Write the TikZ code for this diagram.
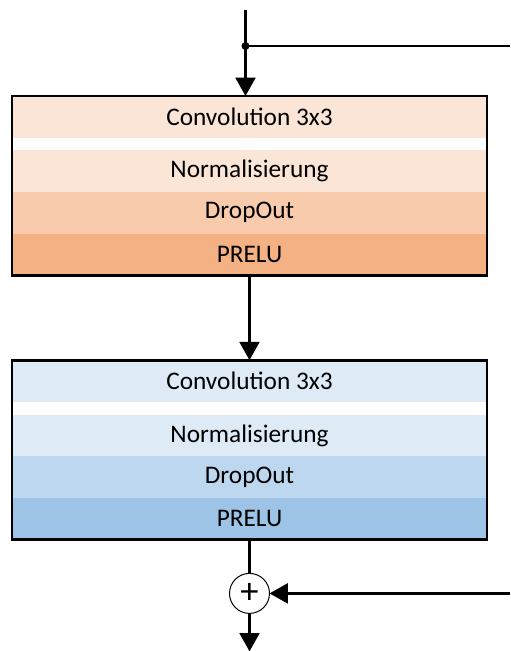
\documentclass[tikz,border=0pt]{standalone}
\usepackage{fontspec}
\setmainfont{Carlito}
\usetikzlibrary{positioning}
\usetikzlibrary{arrows.meta}

\definecolor{orL}{HTML}{FBE5D6}
\definecolor{orM}{HTML}{F8CBAD}
\definecolor{orD}{HTML}{F4B183}
\definecolor{blL}{HTML}{DEEBF7}
\definecolor{blM}{HTML}{BDD7EE}
\definecolor{blD}{HTML}{9DC3E6}

\begin{document}
\begin{tikzpicture}[every node/.style={outer sep=0pt},
 layer/.style={minimum width=11.875cm,minimum height=1.04cm,inner sep=0pt,
 font=\fontsize{18}{20}\selectfont},
 frame/.style={draw,line width=2pt},
 wire/.style={line width=2pt},
 flow/.style={line width=2pt,-{Triangle[length=13pt,width=14pt]}},
 sum/.style={circle,draw,line width=0.7pt,minimum size=1cm,inner sep=0pt,
 fill=white,font=\fontsize{26}{26}\selectfont}]

 \useasboundingbox (0,0) rectangle (12.75,-16.275);
 \coordinate (rim) at (12.75,0);

 % first block
 \node[layer,fill=orL] (c1) at (6.2375,-2.92) {Convolution 3x3};
 \node[layer,fill=orL,below=0.32cm of c1] (n1) {Normalisierung};
 \node[layer,fill=orM,below=0cm of n1] (d1) {DropOut};
 \node[layer,fill=orD,below=0cm of d1] (p1) {PRELU};
 \draw[frame] (c1.north west) rectangle (p1.south east);

 % second block
 \node[layer,fill=blL,below=2.125cm of p1] (c2) {Convolution 3x3};
 \node[layer,fill=blL,below=0.32cm of c2] (n2) {Normalisierung};
 \node[layer,fill=blM,below=0cm of n2] (d2) {DropOut};
 \node[layer,fill=blD,below=0cm of d2] (p2) {PRELU};
 \draw[frame] (c2.north west) rectangle (p2.south east);

 \node[sum,below=0.85cm of p2] (add) {+};

 % skip connection
 \coordinate (entry) at ([xshift=-0.1cm]c1.north);
 \coordinate (in) at ([yshift=2.15cm]entry);
 \coordinate (split) at ([yshift=1.25cm]entry);
 \draw[flow] (in) -- (entry);
 \fill (split) circle (0.1);
 \draw[wire] (split) -- (split -| rim);

 \draw[flow] (p1.south) -- (c2.north);
 \draw[wire] (p2.south) -- (add.north);
 \draw[flow] (add -| rim) -- (add.east);
 \draw[flow] (add.south) -- ++(0,-0.95) coordinate (out);

\end{tikzpicture}
\end{document}
